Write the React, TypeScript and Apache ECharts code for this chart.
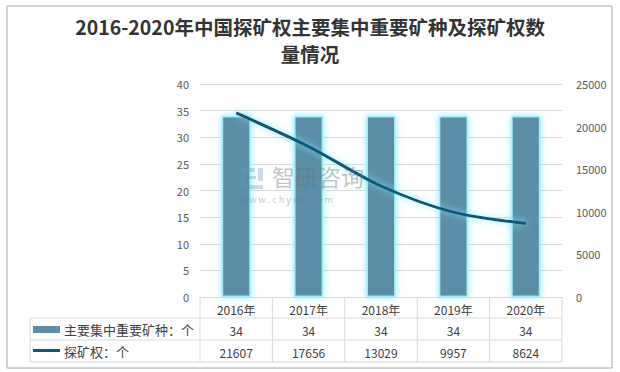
import React, { useEffect, useRef } from "react";
import * as echarts from "echarts";

const years = ["2016年", "2017年", "2018年", "2019年", "2020年"];
const mineralKinds = [34, 34, 34, 34, 34];
const explorationRights = [21607, 17656, 13029, 9957, 8624];
const barName = "主要集中重要矿种：个";
const lineName = "探矿权：个";
const titleText = "2016-2020年中国探矿权主要集中重要矿种及探矿权数\n量情况";

const W = 620;
const H = 372;
const GL = 200;
const GR = 562;
const GT = 84;
const GB = 297;
const ROW1 = 318;
const ROW2 = 340;
const ROW3 = 362;
const TL = 30;

const barColor = "#5B8FA7";
const lineColor = "#0C5877";
const glow = "rgba(120,235,255,0.95)";
const gridColor = "#D9D9D9";
const textColor = "#404040";
const axisColor = "#595959";
const FONT = "'Noto Sans CJK SC', 'Noto Sans', sans-serif";
const wmBlue = "rgba(100,150,200,0.35)";
const wmGray = "rgba(110,110,110,0.42)";

export default function App() {
  const ref = useRef<HTMLDivElement>(null);
  useEffect(() => {
    const chart = echarts.init(ref.current!, null, { renderer: "svg" });
    const n = years.length;
    const colW = (GR - GL) / n;
    const tableLines: any[] = [];
    for (let i = 0; i <= n; i++) {
      const x = GL + i * colW;
      tableLines.push({
        type: "line",
        shape: { x1: x, y1: GB, x2: x, y2: ROW3 },
        style: { stroke: gridColor, lineWidth: 1 },
        silent: true,
      });
    }
    [ROW1, ROW2, ROW3].forEach((y) =>
      tableLines.push({
        type: "line",
        shape: { x1: TL, y1: y, x2: GR, y2: y },
        style: { stroke: gridColor, lineWidth: 1 },
        silent: true,
      })
    );
    tableLines.push({
      type: "line",
      shape: { x1: TL, y1: ROW1, x2: TL, y2: ROW3 },
      style: { stroke: gridColor, lineWidth: 1 },
      silent: true,
    });

    const wmRect = (x: number, y: number, w: number, h: number) => ({
      type: "rect",
      z: 100,
      silent: true,
      shape: { x, y, width: w, height: h },
      style: { fill: wmBlue },
    });

    const option: any = {
      animation: false,
      backgroundColor: "#ffffff",
      textStyle: { fontFamily: FONT },
      title: {
        text: titleText,
        left: "center",
        top: 8,
        textStyle: {
          fontSize: 19.5,
          fontWeight: "bold",
          color: "#333333",
          lineHeight: 27,
          fontFamily: FONT,
        },
      },
      grid: { left: GL, right: W - GR, top: GT, bottom: H - GB },
      xAxis: [
        {
          type: "category",
          data: years,
          axisLine: { show: true, lineStyle: { color: gridColor } },
          axisTick: { show: false },
          axisLabel: { color: textColor, fontSize: 12, margin: 6, fontFamily: FONT },
        },
        {
          type: "category",
          data: mineralKinds.map(String),
          position: "bottom",
          offset: ROW1 - GB,
          axisLine: { show: false },
          axisTick: { show: false },
          axisLabel: { color: textColor, fontSize: 12, margin: 6, fontFamily: FONT },
        },
        {
          type: "category",
          data: explorationRights.map(String),
          position: "bottom",
          offset: ROW2 - GB,
          axisLine: { show: false },
          axisTick: { show: false },
          axisLabel: { color: textColor, fontSize: 12, margin: 6, fontFamily: FONT },
        },
      ],
      yAxis: [
        {
          type: "value",
          min: 0,
          max: 40,
          interval: 5,
          axisLine: { show: false },
          axisTick: { show: false },
          axisLabel: { color: axisColor, fontSize: 11, margin: 11, fontFamily: FONT },
          splitLine: { lineStyle: { color: gridColor } },
        },
        {
          type: "value",
          min: 0,
          max: 25000,
          interval: 5000,
          axisLine: { show: false },
          axisTick: { show: false },
          axisLabel: {
            color: axisColor,
            fontSize: 11,
            margin: 14,
            fontFamily: FONT,
            formatter: (v: number) => String(v),
          },
          splitLine: { show: false },
        },
      ],
      series: [
        {
          name: barName,
          type: "bar",
          data: mineralKinds,
          barWidth: 29,
          itemStyle: {
            color: barColor,
            borderColor: "rgba(160,240,255,0.9)",
            borderWidth: 1.5,
            shadowBlur: 6,
            shadowColor: glow,
          },
        },
        {
          name: lineName,
          type: "line",
          yAxisIndex: 1,
          data: explorationRights,
          smooth: 0.3,
          symbol: "none",
          lineStyle: {
            color: lineColor,
            width: 3,
            shadowBlur: 7,
            shadowColor: glow,
          },
          z: 5,
        },
      ],
      graphic: [
        {
          type: "rect",
          shape: { x: 7, y: 6, width: 605, height: 362 },
          style: { fill: "none", stroke: "#A6A6A6", lineWidth: 1 },
          silent: true,
          z: -1,
        },
        ...tableLines,
        {
          type: "rect",
          shape: { x: 33, y: 326, width: 27, height: 7 },
          style: { fill: barColor },
        },
        {
          type: "text",
          x: 64,
          y: 329,
          style: {
            text: barName,
            fill: textColor,
            fontSize: 13,
            fontFamily: FONT,
            verticalAlign: "middle",
          },
        },
        {
          type: "line",
          shape: { x1: 33, y1: 350.5, x2: 60, y2: 350.5 },
          style: { stroke: lineColor, lineWidth: 3 },
        },
        {
          type: "text",
          x: 64,
          y: 351,
          style: {
            text: lineName,
            fill: textColor,
            fontSize: 13,
            fontFamily: FONT,
            verticalAlign: "middle",
          },
        },
        // watermark
        wmRect(241, 168, 14, 4),
        wmRect(241, 168, 4, 21),
        wmRect(249, 176, 7, 3),
        wmRect(245, 185, 18, 4),
        wmRect(258, 168, 5, 13),
        {
          type: "text",
          z: 100,
          silent: true,
          x: 272,
          y: 176,
          style: {
            text: "智研咨询",
            fill: wmGray,
            fontSize: 23,
            fontFamily: FONT,
            verticalAlign: "middle",
            letterSpacing: 5,
          },
        },
        {
          type: "text",
          z: 100,
          silent: true,
          x: 240,
          y: 199,
          style: {
            text: "w w w . c h y x x . c o m",
            fill: wmGray,
            fontSize: 9,
            fontFamily: FONT,
            verticalAlign: "middle",
            letterSpacing: 1.6,
          },
        },
      ],
    };
    chart.setOption(option);
    return () => chart.dispose();
  }, []);
  return (
    <div
      ref={ref}
      style={{ position: "fixed", left: 0, top: 0, width: W, height: H }}
    />
  );
}
